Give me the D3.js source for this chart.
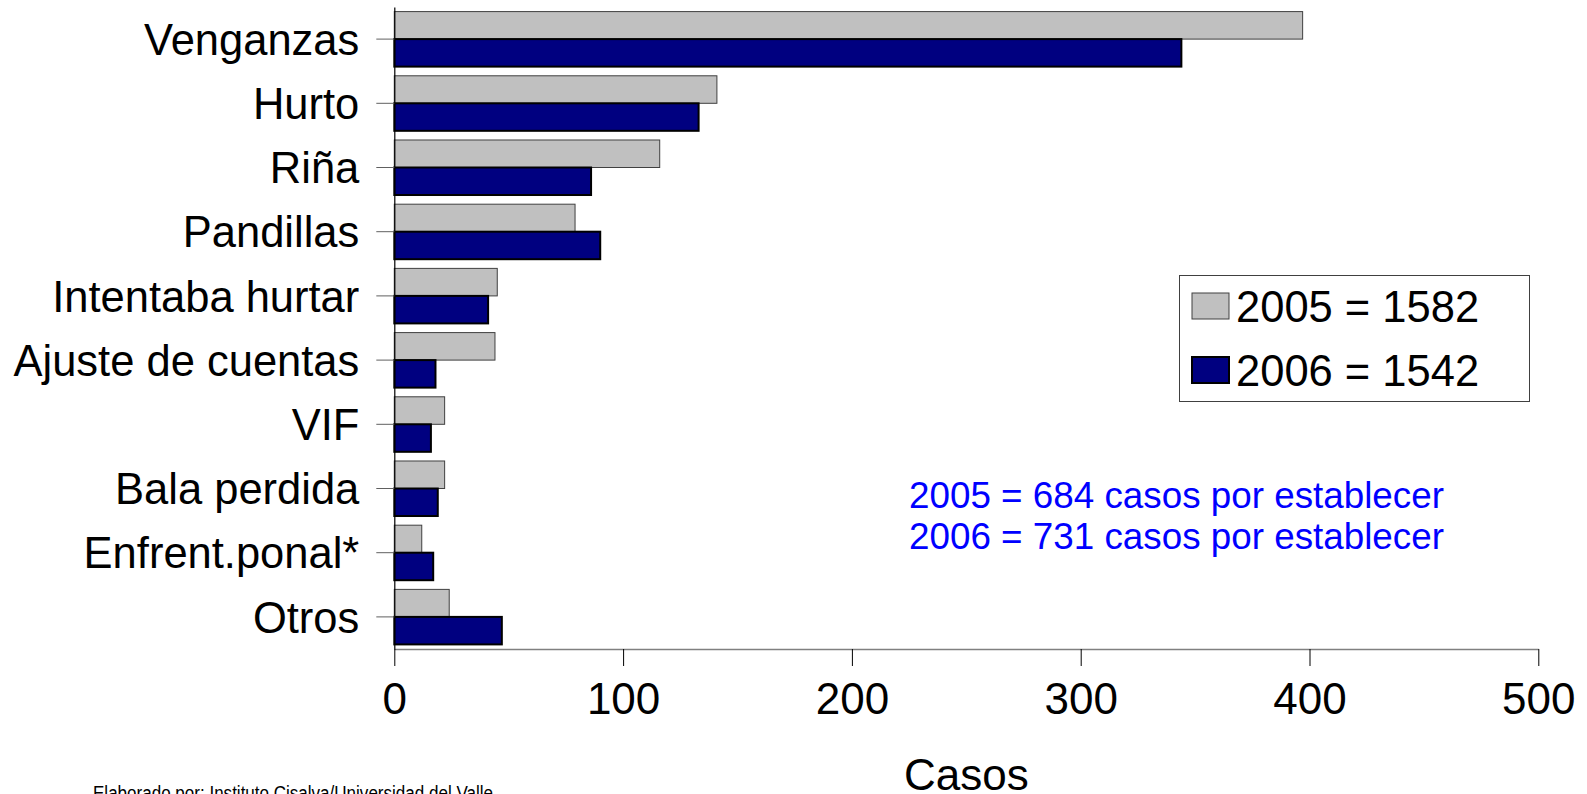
<!DOCTYPE html>
<html><head><meta charset="utf-8">
<script src="https://cdn.jsdelivr.net/npm/d3@7/dist/d3.min.js"></script>
<style>body{margin:0;background:#fff}svg{display:block}</style>
</head><body><svg id="c" width="1587" height="794"></svg>
<script>
const categories = ["Venganzas","Hurto","Riña","Pandillas","Intentaba hurtar","Ajuste de cuentas","VIF","Bala perdida","Enfrent.ponal*","Otros"];
const values2005 = [397,141,116,79,45,44,22,22,12,24];
const values2006 = [344,133,86,90,41,18,16,19,17,47];
const seriesNames = ["2005 = 1582","2006 = 1542"];
const xTicks = [0,100,200,300,400,500];
const notes = ["2005 = 684 casos por establecer","2006 = 731 casos por establecer"];
const xTitle = "Casos";
const footnote = "Elaborado por: Instituto Cisalva/Universidad del Valle";

const svg = d3.select("#c");
const font = "'Liberation Sans', Arial, sans-serif";
const x = d3.scaleLinear().domain([0,500]).range([394.3,1538.3]);
const y = d3.scaleBand().domain(categories).range([7,649]).paddingInner(0.143).paddingOuter(0.0715);
const sub = d3.scaleBand().domain([0,1]).range([0,y.bandwidth()]);
const fills = ["#C0C0C0","#000080"];
const strokes = ["#404040","#000000"];
const strokeW = [1,2];

const series = [values2005, values2006];
series.forEach((vals,si)=>{
  svg.append("g").selectAll("rect").data(vals).join("rect")
    .attr("x", x(0))
    .attr("y",(d,i)=>y(categories[i])+sub(si))
    .attr("width",d=>x(d)-x(0))
    .attr("height",sub.bandwidth())
    .attr("fill",fills[si]).attr("stroke",strokes[si]).attr("stroke-width",strokeW[si]);
});

// x axis
const xAxis = d3.axisBottom(x).tickValues(xTicks).tickSize(17).tickSizeOuter(0).tickPadding(8).tickFormat(d3.format("d"));
const gx = svg.append("g").attr("transform","translate(0,649)").call(xAxis);
gx.select(".domain").attr("stroke","#808080").attr("stroke-width",1.5);
gx.selectAll(".tick line").attr("stroke","#000");
gx.selectAll(".tick text").attr("font-family",font).attr("font-size",44).attr("fill","#000").attr("dy","0.92em");

// y axis
const yAxis = d3.axisLeft(y).tickSize(18).tickSizeOuter(0).tickPadding(17);
const gy = svg.append("g").attr("transform","translate(394.3,0)").call(yAxis);
gy.select(".domain").attr("stroke","#000").attr("stroke-width",1.2);
gy.selectAll(".tick line").attr("stroke","#606060");
gy.selectAll(".tick text").attr("font-family",font).attr("font-size",43.5).attr("fill","#000").attr("dy","0.36em");

// x title
svg.append("text").attr("x",(x(0)+x(500))/2).attr("y",790).attr("text-anchor","middle")
  .attr("font-family",font).attr("font-size",44).text(xTitle);

// legend
const lg = svg.append("g");
lg.append("rect").attr("x",1179.5).attr("y",275.5).attr("width",350).attr("height",126).attr("fill","#fff").attr("stroke","#404040").attr("stroke-width",1);
seriesNames.forEach((n,i)=>{
  const cy = 306 + i*64;
  lg.append("rect").attr("x",1192).attr("y",cy-13).attr("width",37).attr("height",26).attr("fill",fills[i]).attr("stroke",strokes[i]).attr("stroke-width",strokeW[i]);
  lg.append("text").attr("x",1236).attr("y",cy+15.5).attr("font-family",font).attr("font-size",43.5).text(n);
});

// notes
notes.forEach((t,i)=>{
  svg.append("text").attr("x",909).attr("y",508+i*41).attr("font-family",font).attr("font-size",36.8).attr("fill","#0000FF").text(t);
});

// footnote
svg.append("text").attr("x",93).attr("y",800).attr("font-family","'Liberation Sans Narrow', 'Liberation Sans', Arial, sans-serif")
  .attr("font-size",20).attr("textLength",400).attr("lengthAdjust","spacingAndGlyphs").text(footnote);
</script></body></html>
